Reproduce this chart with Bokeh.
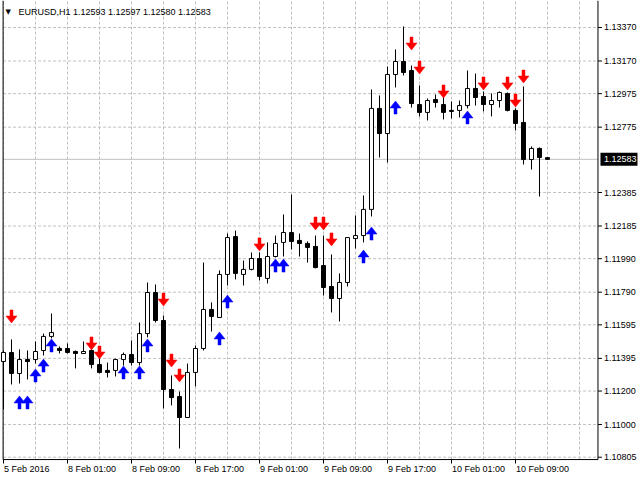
from bokeh.plotting import figure
from bokeh.models import ColumnDataSource, Label, Range1d
from bokeh.core.properties import value
from bokeh.embed import file_html
from bokeh.resources import INLINE

# hourly EURUSD candles, bar 0 = 5 Feb 2016 17:00
bar = list(range(69))
open_ = [1.11376, 1.11430, 1.11305, 1.11388, 1.11388, 1.11442, 1.11526, 1.11454, 1.11454, 1.11436,
         1.11424, 1.11442, 1.11358, 1.11323, 1.11323, 1.11388, 1.11418, 1.11370, 1.11543, 1.11788,
         1.11621, 1.11209, 1.11167, 1.11042, 1.11311, 1.11454, 1.11687, 1.11639, 1.11896, 1.12122,
         1.11896, 1.11926, 1.11991, 1.11872, 1.12003, 1.12087, 1.12146, 1.12099, 1.12081, 1.12063,
         1.11949, 1.11824, 1.11752, 1.11848, 1.12110, 1.12128, 1.12284, 1.12887, 1.12737, 1.13089,
         1.13167, 1.13113, 1.12910, 1.12863, 1.12940, 1.12910, 1.12875, 1.12875, 1.12904, 1.13006,
         1.12958, 1.12910, 1.12934, 1.12976, 1.12875, 1.12803, 1.12582, 1.12648, 1.12593]
high = [1.11442, 1.11508, 1.11448, 1.11442, 1.11496, 1.11543, 1.11663, 1.11466, 1.11484, 1.11442,
        1.11496, 1.11496, 1.11424, 1.11370, 1.11394, 1.11430, 1.11502, 1.11609, 1.11848, 1.11836,
        1.11651, 1.11293, 1.11197, 1.11364, 1.11472, 1.11967, 1.11729, 1.11920, 1.12140, 1.12158,
        1.11979, 1.12027, 1.12027, 1.12087, 1.12128, 1.12254, 1.12373, 1.12140, 1.12093, 1.12128,
        1.12128, 1.12015, 1.11902, 1.12116, 1.12248, 1.12367, 1.13000, 1.12964, 1.13137, 1.13239,
        1.13376, 1.13143, 1.13024, 1.12946, 1.12970, 1.12976, 1.12928, 1.12934, 1.13113, 1.13095,
        1.12988, 1.12976, 1.12988, 1.12982, 1.12887, 1.13018, 1.12660, 1.12654, 1.12597]
low = [1.11090, 1.11239, 1.11245, 1.11269, 1.11364, 1.11412, 1.11514, 1.11424, 1.11424, 1.11335,
       1.11424, 1.11335, 1.11305, 1.11281, 1.11287, 1.11352, 1.11352, 1.11352, 1.11520, 1.11609,
       1.11096, 1.11114, 1.10857, 1.11042, 1.11227, 1.11442, 1.11555, 1.11639, 1.11830, 1.11866,
       1.11830, 1.11920, 1.11860, 1.11842, 1.11997, 1.12003, 1.12045, 1.12003, 1.11967, 1.11932,
       1.11770, 1.11669, 1.11615, 1.11824, 1.12051, 1.12087, 1.12242, 1.12594, 1.12564, 1.13012,
       1.13083, 1.12892, 1.12839, 1.12815, 1.12892, 1.12821, 1.12827, 1.12833, 1.12887, 1.12904,
       1.12869, 1.12839, 1.12892, 1.12869, 1.12755, 1.12552, 1.12522, 1.12361, 1.12580]
close = [1.11430, 1.11305, 1.11388, 1.11376, 1.11436, 1.11526, 1.11549, 1.11442, 1.11430, 1.11424,
         1.11436, 1.11358, 1.11311, 1.11311, 1.11388, 1.11418, 1.11370, 1.11543, 1.11788, 1.11621,
         1.11209, 1.11161, 1.11042, 1.11311, 1.11454, 1.11687, 1.11645, 1.11896, 1.12116, 1.11902,
         1.11926, 1.11991, 1.11884, 1.12003, 1.12081, 1.12146, 1.12093, 1.12081, 1.12057, 1.11937,
         1.11818, 1.11752, 1.11848, 1.12116, 1.12128, 1.12284, 1.12887, 1.12737, 1.13089, 1.13167,
         1.13101, 1.12916, 1.12863, 1.12934, 1.12922, 1.12863, 1.12869, 1.12904, 1.13006, 1.12952,
         1.12910, 1.12934, 1.12982, 1.12875, 1.12797, 1.12582, 1.12648, 1.12594, 1.12583]

# signal arrows (bar index, price of arrow centre)
sell_bars = [1, 11, 12, 20, 21, 22, 32, 39, 40, 41, 51, 52, 55, 60, 63, 64, 65]
sell_price = [1.11645, 1.11484, 1.11430, 1.11746, 1.11382, 1.11293, 1.12075, 1.12200, 1.12200,
              1.12105, 1.13274, 1.13131, 1.12988, 1.13036, 1.13036, 1.12934, 1.13077]
buy_bars = [2, 3, 4, 5, 6, 15, 17, 18, 27, 28, 34, 35, 45, 46, 49, 58]
buy_price = [1.11132, 1.11132, 1.11293, 1.11352, 1.11472, 1.11311, 1.11311, 1.11472, 1.11514,
             1.11734, 1.11949, 1.11949, 1.12003, 1.12140, 1.12892, 1.12833]

time_ticks = [0, 8, 16, 24, 32, 40, 48, 56, 64]
time_labels = ["5 Feb 2016", "8 Feb 01:00", "8 Feb 09:00", "8 Feb 17:00", "9 Feb 01:00",
               "9 Feb 09:00", "9 Feb 17:00", "10 Feb 01:00", "10 Feb 09:00"]
price_ticks = [1.10805, 1.11000, 1.11200, 1.11395, 1.11595, 1.11790, 1.11990, 1.12185,
               1.12385, 1.12775, 1.12975, 1.13170, 1.13370]
last_price = 1.12583
title_text = "EURUSD,H1  1.12593 1.12597 1.12580 1.12583"

FONT = value("Liberation Sans")
FS = "9px"
PX = 0.0000597          # price per screen pixel
BX = 0.125              # bars per screen pixel
X_LEFT, X_AXIS = -0.05, 74.31     # left border / price scale, in bars
Y_TOP, Y_AXIS = 1.13531, 1.10791  # top of chart / time scale, in price

# the whole canvas is the frame; the MT4 style scales are drawn by hand
p = figure(width=640, height=480, output_backend="svg", toolbar_location=None,
           x_range=Range1d(-0.375, 79.625), y_range=Range1d(1.10666, 1.13531),
           x_axis_location=None, y_axis_location=None, min_border=0)
p.outline_line_color = None
p.grid.visible = False

grid_x = list(range(0, 75, 4))
p.segment(x0=grid_x, y0=Y_AXIS, x1=grid_x, y1=Y_TOP, line_color="#C0C0C0",
          line_width=1, line_dash="3 2")
p.segment(x0=X_LEFT, y0=price_ticks, x1=X_AXIS, y1=price_ticks, line_color="#C0C0C0",
          line_width=1, line_dash="3 2")
p.segment(x0=[X_LEFT], y0=[last_price], x1=[X_AXIS], y1=[last_price], line_color="#C0C0C0",
          line_width=1)

# frame lines and scale ticks
p.segment(x0=[X_LEFT, X_LEFT, X_AXIS], y0=[Y_TOP, Y_AXIS, Y_TOP],
          x1=[X_LEFT, X_AXIS, X_AXIS], y1=[Y_AXIS, Y_AXIS, Y_AXIS], line_color="black", line_width=1)
p.segment(x0=X_AXIS, y0=price_ticks, x1=X_AXIS + 4 * BX, y1=price_ticks, line_color="black")
p.segment(x0=time_ticks, y0=Y_AXIS, x1=time_ticks, y1=Y_AXIS - 4 * PX, line_color="black")

p.text(x=X_AXIS + 6 * BX, y=price_ticks, text=[f"{v:.5f}" for v in price_ticks],
       text_font=FONT, text_font_size=FS, text_baseline="middle", text_align="left",
       text_color="black")
p.text(x=[t + 0.05 for t in time_ticks], y=Y_AXIS - 4 * PX, text=time_labels,
       text_font=FONT, text_font_size=FS, text_baseline="top", text_align="left",
       text_color="black")

src = ColumnDataSource(dict(
    bar=bar, high=high, low=low,
    top=[max(o, c) for o, c in zip(open_, close)],
    bottom=[min(o, c) for o, c in zip(open_, close)],
    fill=["white" if c >= o else "black" for o, c in zip(open_, close)],
))
p.segment(x0="bar", y0="low", x1="bar", y1="high", source=src, line_color="black", line_width=1)
p.vbar(x="bar", width=0.5, top="top", bottom="bottom", fill_color="fill",
       line_color="black", line_width=1, source=src)


def arrow(x, c, down):
    hw, sw = 5.5 * BX, 1.5 * BX
    s = -1 if down else 1
    xs = [x - sw, x + sw, x + sw, x + hw, x, x - hw, x - sw]
    ys = [c - s * 6.5 * PX, c - s * 6.5 * PX, c - s * 0.5 * PX, c - s * 0.5 * PX,
          c + s * 6.5 * PX, c - s * 0.5 * PX, c - s * 0.5 * PX]
    return xs, ys


sx, sy = zip(*[arrow(b, v, True) for b, v in zip(sell_bars, sell_price)])
bx, by = zip(*[arrow(b, v, False) for b, v in zip(buy_bars, buy_price)])
p.patches(list(sx), list(sy), fill_color="#FF0000", line_color="#FF0000", line_width=0.5)
p.patches(list(bx), list(by), fill_color="#0000FF", line_color="#0000FF", line_width=0.5)

# last price tag on the price scale
p.rect(x=[X_AXIS + 21 * BX], y=[last_price], width=37, height=13, width_units="screen",
       height_units="screen", fill_color="black", line_color=None)
p.text(x=[X_AXIS + 6 * BX], y=[last_price], text=[f"{last_price:.5f}"], text_font=FONT,
       text_font_size=FS, text_baseline="middle", text_align="left", text_color="white")

# header
p.add_layout(Label(x=5, y=469, x_units="screen", y_units="screen", text="▼",
                   text_font="DejaVu Sans", text_font_size="7px", text_baseline="middle",
                   text_color="black"))
p.add_layout(Label(x=18, y=469, x_units="screen", y_units="screen", text=title_text,
                   text_font="Liberation Sans", text_font_size=FS, text_baseline="middle",
                   text_color="black"))

open("out.html", "w").write(file_html(p, INLINE))
